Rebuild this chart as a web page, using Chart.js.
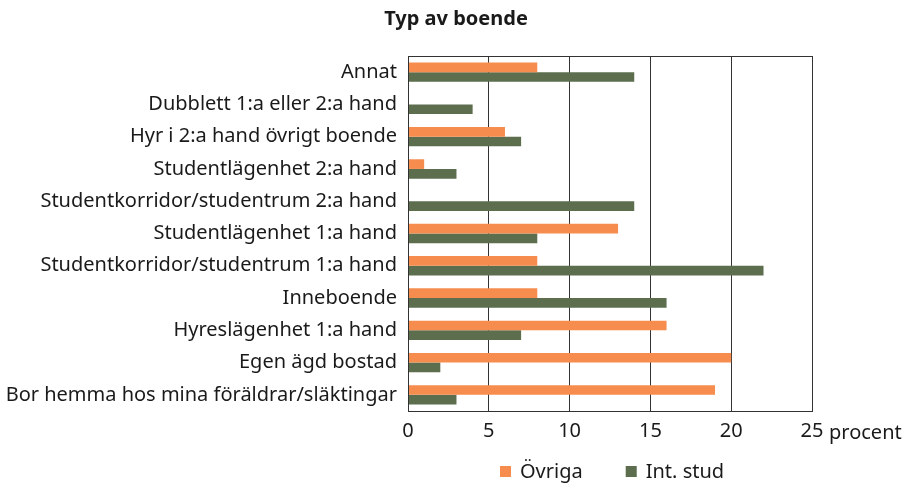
<!DOCTYPE html>
<html>
<head>
<meta charset="utf-8">
<script src="https://cdn.jsdelivr.net/npm/chart.js@4"></script>
<style>
  html, body { margin: 0; padding: 0; background: #fff; }
  #wrap { width: 902px; height: 485px; }
</style>
</head>
<body>
<div id="wrap"><canvas id="c" width="902" height="485"></canvas></div>
<script>
const categories = [
  "Annat",
  "Dubblett 1:a eller 2:a hand",
  "Hyr i 2:a hand övrigt boende",
  "Studentlägenhet 2:a hand",
  "Studentkorridor/studentrum 2:a hand",
  "Studentlägenhet 1:a hand",
  "Studentkorridor/studentrum 1:a hand",
  "Inneboende",
  "Hyreslägenhet 1:a hand",
  "Egen ägd bostad",
  "Bor hemma hos mina föräldrar/släktingar"
];
const ovriga = [8, 0, 6, 1, 0, 13, 8, 8, 16, 20, 19];
const intStud = [14, 4, 7, 3, 14, 8, 22, 16, 7, 2, 3];
const xTicks = [0, 5, 10, 15, 20, 25];
const unitLabel = "procent";
const titleText = "Typ av boende";

const FONT = "'Noto Sans', sans-serif";
const TXT = '#1a1a1a';

const extras = {
  id: 'extras',
  afterDraw(chart) {
    const ctx = chart.ctx;
    const a = chart.chartArea;
    ctx.save();
    // frame
    ctx.strokeStyle = '#333';
    ctx.lineWidth = 1;
    ctx.strokeRect(Math.round(a.left) + 0.5, Math.round(a.top) + 0.5, Math.round(a.right - a.left), Math.round(a.bottom - a.top));
    // title
    ctx.fillStyle = TXT;
    ctx.font = "bold 20px " + FONT;
    ctx.textAlign = 'center';
    ctx.textBaseline = 'middle';
    ctx.fillText(titleText, 456, 19);
    // unit
    const xs = chart.scales.x;
    ctx.font = "20px " + FONT;
    ctx.textAlign = 'left';
    ctx.fillText(unitLabel, xs.getPixelForValue(25) + 17, a.bottom + 22);
    // legend
    const ds = chart.data.datasets;
    const y = 472;
    let x = 500;
    ds.forEach((d) => {
      ctx.fillStyle = d.backgroundColor;
      ctx.fillRect(x, y - 6, 11, 11);
      ctx.fillStyle = TXT;
      ctx.font = "20px " + FONT;
      ctx.textAlign = 'left';
      ctx.fillText(d.label, x + 20, y);
      x += 20 + ctx.measureText(d.label).width + 43;
    });
    ctx.restore();
  }
};

new Chart(document.getElementById('c'), {
  type: 'bar',
  data: {
    labels: categories,
    datasets: [
      { label: 'Övriga', data: ovriga, backgroundColor: '#F68D4E', borderWidth: 0 },
      { label: 'Int. stud', data: intStud, backgroundColor: '#5C6E4E', borderWidth: 0 }
    ]
  },
  options: {
    indexAxis: 'y',
    responsive: false,
    animation: false,
    devicePixelRatio: 1,
    layout: { padding: { left: 0, right: 90, top: 56, bottom: 34 } },
    datasets: { bar: { categoryPercentage: 0.6, barPercentage: 1.0 } },
    scales: {
      x: {
        min: 0, max: 25,
        afterBuildTicks(scale) { scale.ticks = xTicks.map(v => ({ value: v })); },
        ticks: { color: TXT, font: { family: FONT, size: 20 }, padding: 8, maxRotation: 0 },
        grid: { color: '#333', lineWidth: 1, drawTicks: false },
        border: { display: true, color: '#333' },
        afterFit(scale) { scale.height = 40; }
      },
      y: {
        ticks: { color: TXT, font: { family: FONT, size: 20 }, padding: 11, autoSkip: false },
        grid: { display: false, drawTicks: false },
        border: { display: true, color: '#333' },
        afterFit(scale) { scale.width = 408; }
      }
    },
    plugins: {
      title: { display: false },
      legend: { display: false },
      tooltip: { enabled: false }
    }
  },
  plugins: [extras]
});
</script>
</body>
</html>
